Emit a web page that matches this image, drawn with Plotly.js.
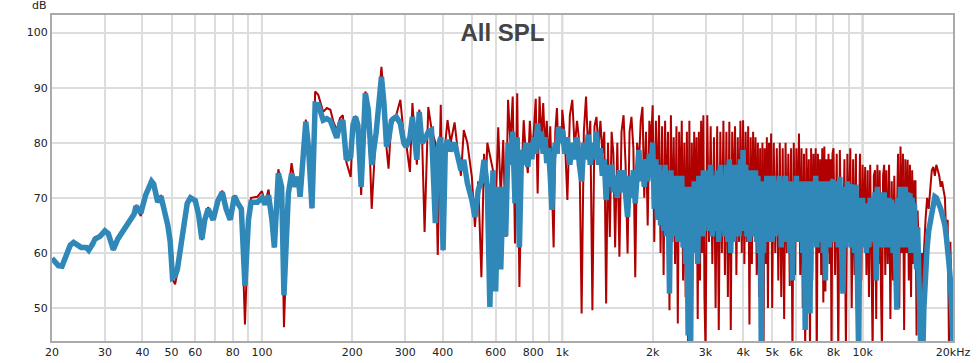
<!DOCTYPE html>
<html>
<head>
<meta charset="utf-8">
<script src="https://cdn.plot.ly/plotly-3.0.1.min.js"></script>
<style>html,body{margin:0;padding:0;background:#fff;}#chart{width:980px;height:363px;}</style>
</head>
<body>
<div id="chart"></div>
<script>
// ---- data (frequency in Hz, level in dB) ----
const freqLow = [20,20.5,21,21.6,22.4,23,23.6,24.2,25,26,26.5,27.3,27.8,28.9,30,30.8,31.5,32,33.1,35.3,36.7,37.5,38.1,39.5,41,42.9,43.6,45,46.1,47.3,48.6,49.5,50.4,51.4,52.3,54.3,56.4,57.8,60,61.5,63.1,64.5,66.2,68.8,71.4,73.8,76,78.4,81,83.2,85.4,87.8,90.2,92,96.6,100,102.6,105.2,108,110,113.4,116.3,118.4,122.5,125.5,129,132,134,137,140,143,146.8,150.4,154,160,164.4,169,173,177.5,182,186,191,197.5,201,205,208.7,214,221,226,232,240,250,255,260,264,270,280,289,297,302,311,317,328,334,341,348,358,367,378,385,394,401,408,415,425,438,450,460,470,483,500,512,525,538,549,556,563,574,588];
const blueLow = [59.0,58.2,57.7,57.6,59.5,61.4,61.9,61.5,61.0,61.0,60.5,61.6,62.5,63.0,64.0,63.5,61.5,60.6,62.5,65.0,66.3,67.0,68.5,67.2,70.5,73.0,72.5,69.2,70.3,68.0,65.0,62.0,55.5,55.8,57.0,63.0,69.0,70.0,69.5,67.0,62.5,66.0,68.0,66.0,69.5,71.0,68.0,66.0,70.3,69.0,68.0,54.0,66.0,69.2,69.2,70.0,68.8,70.5,66.0,61.0,74.5,72.0,52.3,70.8,74.4,72.0,73.8,70.2,77.0,83.8,79.0,68.1,87.0,86.9,84.1,84.4,84.0,82.7,80.9,83.5,84.1,76.9,77.5,83.2,84.7,83.2,72.0,89.0,86.0,76.0,81.8,92.0,87.0,79.3,80.5,84.0,84.7,83.5,79.9,79.3,81.0,84.7,76.9,85.6,80.0,80.5,82.0,82.3,65.4,79.0,81.0,60.5,79.0,80.5,78.5,80.0,76.9,75.0,76.9,72.7,69.6,66.5,71.4,73.0,76.9,74.0,72.0,50.2,75.0];
const redLow  = [59.0,58.0,57.5,57.4,59.3,61.0,61.6,61.3,61.0,61.0,60.4,61.9,62.9,63.0,63.8,63.3,61.3,60.5,62.4,65.0,66.3,67.0,68.7,66.7,70.5,73.0,72.7,69.2,70.5,68.0,65.0,62.0,55.2,54.3,56.5,63.0,69.2,70.3,69.7,67.0,62.3,66.0,68.3,66.0,70.0,71.3,68.0,66.0,70.5,69.0,67.8,47.0,66.0,70.0,70.2,71.2,69.2,71.5,66.5,61.0,75.2,72.5,46.5,70.8,76.3,72.3,73.8,70.2,77.0,84.2,79.0,68.1,89.3,88.7,85.6,86.3,86.0,83.8,82.3,84.5,85.0,76.5,73.8,83.5,84.9,83.5,70.5,89.3,86.5,68.0,82.5,93.8,88.0,79.0,75.3,84.5,85.0,87.8,81.0,80.0,74.7,87.2,76.0,86.0,82.0,63.8,86.5,82.5,80.0,59.6,86.9,60.5,80.0,84.1,80.0,83.7,78.0,74.0,82.3,80.0,73.8,64.7,73.0,55.6,78.0,72.0,80.0,78.0,75.0];

const freq600 = [600,612,624,636,648,660,672,684,696,708,720,732,744,756,768,780,792,804,816,828,840,852,864,876,888,900,912,924,936,948,960,972,984,996];
const blue600 = [53,72,57,72,63,80,76,82,69,81,61,78.7,76,80,75.6,80,77,81,78,83.5,79,82,78,81,76.3,79,74,67.8,77,80,78,82.9,80,82];
const red600  = [68,82.8,70,80.5,62.9,87.8,80,88.4,61.7,89,53.8,74,84.1,78,74.5,84,78,82,88,70.8,88.4,80,87.2,79,84,76,83,72,61,82,86.3,78,83,81];

const freq1k = [1000,1020,1040,1060,1080,1100,1120,1140,1160,1180,1200,1220,1240,1260,1280,1300,1320,1340,1360,1380,1400,1420,1440,1460,1480,1500,1525,1550,1575,1600,1625,1650,1675,1700,1725,1750,1775,1800,1825,1850,1875,1900,1925,1950,1975];
const blue1k = [82.5,78,81,76,80,77,81,76,73,80,77,81.5,76,80,77,82,76,79,74,77,69.6,76,72,76,71,74,70,75,71,75,70,66.5,74,70,75,69,74,78.7,73,77,72,77,73,78,74];
const red1k  = [86,81,69.6,85,87.8,79,84,80,49,82,88.4,78,84,49.6,83,84.7,79,84,78,82,50.8,80,62.9,82,78,61,80,59.3,82,85,76,59.9,82,84.7,79,55.6,80,76,84,86.5,70,82,65,84,80];

const freq2k = [2000,2025,2050,2075,2100,2125,2150,2175,2200,2225,2250,2275,2300,2325,2350,2375,2400,2425,2450,2475,2500,2525,2550,2575,2600,2625,2650,2675,2700,2725,2750,2775,2800,2825,2850,2875,2900,2925,2950,2975];
const blue2k = [80,68,77,66,76,65,75,64,76,63,74,52.6,75,64,73,63,74,62,73,64,74,61,72,58,70,45,72,42,71,60,73,62,72,58,74,64,73,63,75,65];
const red2k  = [86.8,62,84,70,85,60,83,56,84,66,82,49.6,85,62,81,58,83,47.2,82,66,84,55,80,52,82,42,84,42,80,58,82,62,81,48,82,55,84,60,85,52];

const freq3k = [3000,3040,3080,3120,3160,3200,3240,3280,3320,3360,3400,3440,3480,3520,3560,3600,3640,3680,3720,3760,3800,3840,3880,3920,3960,4000,4040,4080,4120,4160,4200,4240,4280,4320,4360,4400,4440,4480,4520,4560,4600,4640,4680,4720,4760,4800,4840,4880,4920,4960];
const blue3k = [66,75,64,76,63,74,64,75,62,76,64,74,63,76,62,77,60,75,62,76,64,75,63,77,64,78.7,65,76,63,75,62,75,63,74,64,75,62,74,60,73,42,72,60,73,63,74,62,73,63,74];
const red3k  = [42,85,62,83,58,81,50,83,46,82,60,84,56,82,52,83.8,46,82,66,83,56,81,62,84,60,84.1,58,82,62,83,47,81,58,82,64,81,56,80,52,79,42,80,42,79,58,81,50,80,62,81.7];

const freq5k = [5000,5060,5120,5180,5240,5300,5360,5420,5480,5540,5600,5660,5720,5780,5840,5900,5960,6020,6080,6140,6200,6260,6320,6380,6440,6500,6560,6620,6680,6740,6800,6860,6920,6980,7040,7100,7160,7220,7280,7340,7400,7460,7520,7580,7640,7700,7760,7820,7880,7940];
const blue5k = [62,74,63,73,64,74,61,73,63,74,62,72,60,73,55,73,62,74,63,73,62,72,60,73,46,72,62,73,49,72,62,73,63,74,61,72,63,73,62,72,60,73,55,72,62,73,61,72,62,73];
const red5k  = [50,80,60,79,55,80,52,79,48,80,60,78,54,79,42,80,56,79,62,81.7,56,79,50,78,42,79,60,77,42,79,55,78,62,79,42,78,60,77,56,79,51,79.3,53,77,60,78,58,77,42,78];

const freq8k = [8000,8100,8200,8300,8400,8500,8600,8700,8800,8900,9000,9100,9200,9300,9400,9500,9600,9700,9800,9900,10000,10100,10200,10300,10400,10500,10600,10700,10800,10900,11000,11100,11200,11300,11400,11500,11600,11700,11800,11900];
const blue8k = [73.2,62,73,61,73.8,62,52.6,72,61,73,62,72.5,61,72,60,72.4,58,42,70,61,70,62,69,60,68.4,61,70,62,69,63,71,55,72,62,71,61,70,62,71,61];
const red8k  = [79,56,78,42,78.7,60,58,77,42,78,62,79,50,77,56,78,42,60,78,55,76,62,75.6,56,75,52,76,60,42,74,75,48,76,58,75,55,42,74,76,56];

const freq12k = [12000,12125,12250,12375,12500,12625,12750,12875,13000,13125,13250,13375,13500,13625,13750,13875,14000,14125,14250,14375,14500,14625,14750,14875,15000,15125,15250,15375,15500,15625,15750,15875];
const blue12k = [70,61,70,62,69.7,60,69,55,49.7,70,62,72,61,71,62,72,61,71,62,70.8,60,70,62,69,64.7,57,64.7,58,52,42,48,42];
const red12k  = [75,58,76,48,73,55,74,60,66,78,50,79.3,60,78,46,77,60,76.9,55,76,52,75,58,73,73,45,67.7,60,42,42,60,42];

const freq16k = [16000,16200,16400,16600,16800,17000,17200,17400,17600,17800,18000,18200,18400,18600,18800,19000,19200,19400,19600,19800,20000];
const blue16k = [50,58,61,64,66,68,69.5,70.2,70,69.5,69,68,67,66,65,63,61,58,55,50,44];
const red16k  = [60,66,70,68,72,75,75.6,74,76,75,74,72,73,71.4,70,62,66,42,62,50,42];

const xTickVals = [20,30,40,50,60,70,80,90,100,200,300,400,500,600,700,800,900,1000,2000,3000,4000,5000,6000,7000,8000,9000,10000,20000];
const xTickText = ['20','30','40','50','60','','80','','100','200','300','400','','600','','800','','1k','2k','3k','4k','5k','6k','','8k','','10k','20kHz'];
const yTickVals = [50,60,70,80,90,100];
const decades = [100,1000,10000];

// ---- build ----
const freq = [].concat(freqLow, freq600, freq1k, freq2k, freq3k, freq5k, freq8k, freq12k, freq16k);
const red  = [].concat(redLow, red600, red1k, red2k, red3k, red5k, red8k, red12k, red16k);
const blue = [].concat(blueLow, blue600, blue1k, blue2k, blue3k, blue5k, blue8k, blue12k, blue16k);

const traces = [
  {x: freq, y: red, type: 'scatter', mode: 'lines', line: {color: '#b00000', width: 2}, hoverinfo: 'skip'},
  {x: freq, y: blue, type: 'scatter', mode: 'lines', line: {color: '#2f88b8', width: 5.5}, hoverinfo: 'skip'}
];

const tickFont = {family: 'DejaVu Sans, Verdana, sans-serif', size: 11, color: '#222'};

const layout = {
  width: 980, height: 363,
  margin: {l: 52, r: 27, t: 15, b: 22, pad: 0},
  paper_bgcolor: '#ffffff', plot_bgcolor: '#ffffff',
  showlegend: false,
  title: {text: 'All SPL', font: {family: 'Liberation Sans, Arial, sans-serif', size: 24, color: '#444', weight: 'bold'},
          x: 0.5, xref: 'paper', xanchor: 'center', y: 1 - 33/363, yref: 'container', yanchor: 'middle'},
  xaxis: {type: 'log', range: [Math.log10(20), Math.log10(20000)], tickmode: 'array', tickvals: xTickVals, ticktext: xTickText,
          ticks: '', showgrid: true, gridcolor: '#dddddd', gridwidth: 2, showline: true, linecolor: '#aaaaaa', linewidth: 2,
          mirror: true, zeroline: false, tickfont: tickFont, fixedrange: true},
  yaxis: {range: [44, 103.2], tickmode: 'array', tickvals: yTickVals, ticks: '', showgrid: true, gridcolor: '#dddddd', gridwidth: 2,
          showline: true, linecolor: '#aaaaaa', linewidth: 2, mirror: true, zeroline: false, tickfont: tickFont, fixedrange: true},
  shapes: decades.map(d => ({type: 'line', xref: 'x', yref: 'paper', x0: d, x1: d, y0: 0, y1: 1, layer: 'below',
                             line: {color: '#bdbdbd', width: 2}})),
  annotations: [{text: 'dB', xref: 'paper', yref: 'paper', x: -0.014, y: 1.029, xanchor: 'center', yanchor: 'middle', showarrow: false,
                 font: tickFont}]
};

Plotly.newPlot('chart', traces, layout, {staticPlot: true, displayModeBar: false});
</script>
</body>
</html>
